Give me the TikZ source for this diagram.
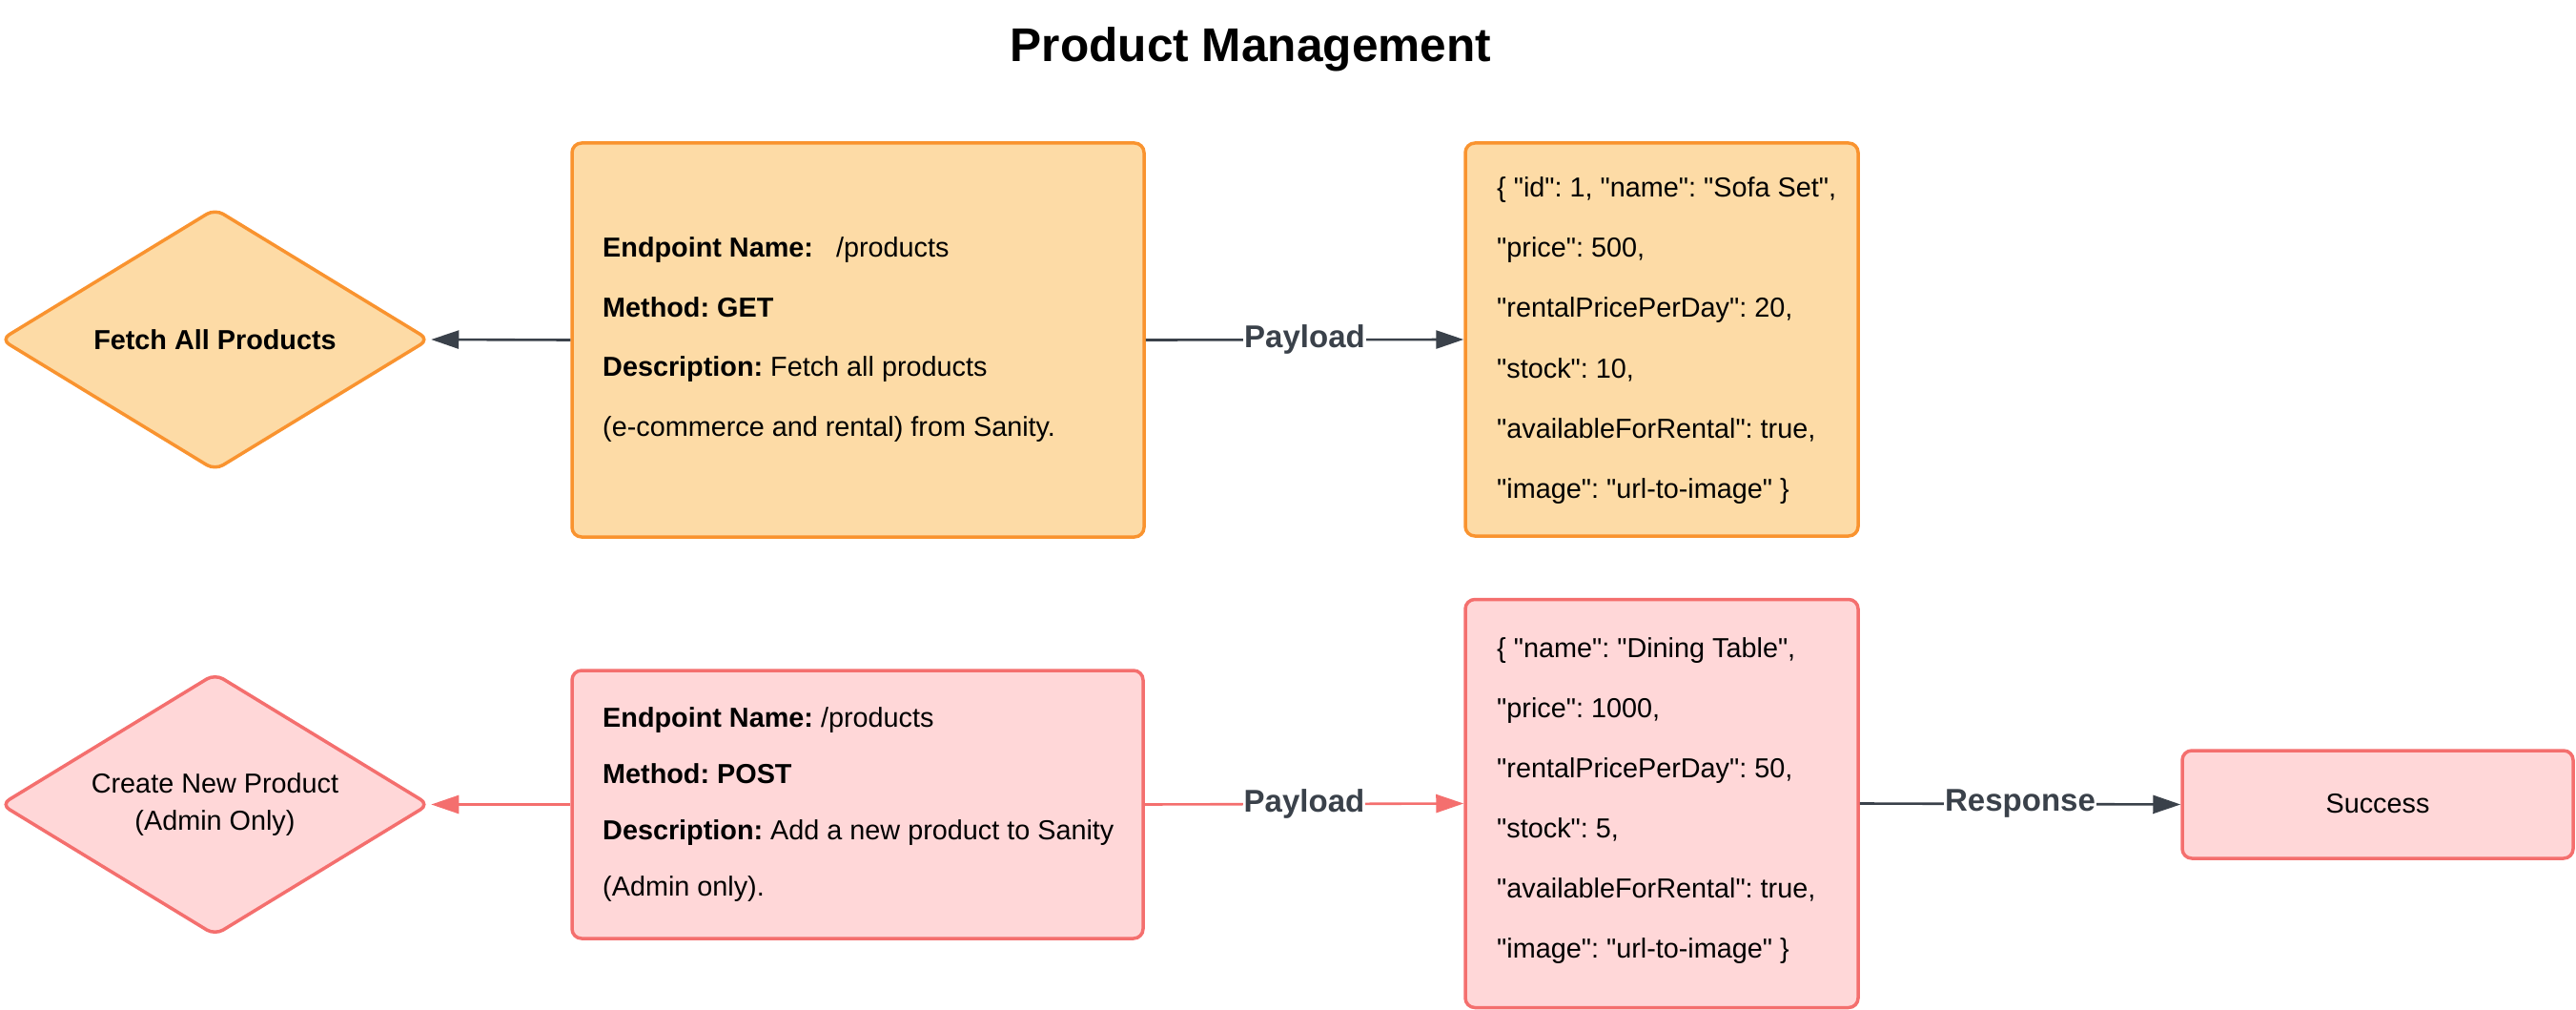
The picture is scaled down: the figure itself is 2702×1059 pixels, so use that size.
\documentclass[tikz,border=0pt]{standalone}
\usepackage{fontspec}
\setmainfont{Liberation Sans}[Ligatures=TeXOff]
\usetikzlibrary{shapes.geometric,arrows.meta}
\definecolor{ofill}{HTML}{FDDBA6}
\definecolor{ostroke}{HTML}{F9932F}
\definecolor{pfill}{HTML}{FFD7D8}
\definecolor{pstroke}{HTML}{F46F6E}
\definecolor{dark}{HTML}{3A414A}
\tikzset{
  x=1pt, y=-1pt,
  obox/.style={draw=ostroke, fill=ofill, line width=3.5pt, rounded corners=10pt, inner sep=0pt},
  pbox/.style={draw=pstroke, fill=pfill, line width=3.5pt, rounded corners=10pt, inner sep=0pt},
  odiam/.style={diamond, shape aspect=1.637, draw=ostroke, fill=ofill, line width=3.5pt, rounded corners=10pt, inner sep=0pt, minimum width=450pt, minimum height=275pt},
  pdiam/.style={diamond, shape aspect=1.637, draw=pstroke, fill=pfill, line width=3.5pt, rounded corners=10pt, inner sep=0pt, minimum width=450pt, minimum height=275pt},
  body/.style={font=\fontsize{28.8}{34}\selectfont, inner sep=0pt, text=black},
  arrdark/.style={draw=dark, line width=2.6pt, -{Triangle[length=29pt,width=19pt]}},
  arrred/.style={draw=pstroke, line width=2.6pt, -{Triangle[length=29pt,width=19pt]}},
  lbl/.style={fill=white, inner xsep=1pt, inner ysep=2pt, text=dark, font=\fontsize{33}{36}\selectfont\bfseries},
}
\begin{document}
\frenchspacing
\begin{tikzpicture}
\useasboundingbox (0,0) rectangle (2702,1059);
% title
\node[font=\fontsize{49.6}{54}\selectfont\bfseries, inner sep=0pt] (title) at (1312,52) {Product Management};

% row 1
\node[odiam, body] (d1) at (225.5,356) {\textbf{Fetch All Products}};
\node[obox, minimum width=600pt, minimum height=413pt] (b1) at (900,356.5) {};
\node[body, anchor=west, align=left, font=\fontsize{28.8}{62.7}\selectfont] (t1) at (632,356)
  {\textbf{Endpoint Name:}\ \ \ /products\\
   \textbf{Method: GET}\\
   \textbf{Description:} Fetch all products\\
   (e-commerce and rental) from Sanity.};
\node[obox, minimum width=412pt, minimum height=412pt] (b2) at (1743,356) {};
\node[body, anchor=west, align=left, font=\fontsize{28.8}{63.2}\selectfont] (t2) at (1570,357)
  {\{ "id": 1, "name": "Sofa Set",\\
   "price": 500,\\
   "rentalPricePerDay": 20,\\
   "stock": 10,\\
   "availableForRental": true,\\
   "image": "url-to-image" \}};
\draw[arrdark] (b1.west) -- (d1.east);
\draw[arrdark] (b1.east) -- node[lbl] (l1) {Payload} (b2.west);

% row 2
\node[pdiam, body, align=center, font=\fontsize{28.8}{39}\selectfont] (d2) at (225.5,843.5) {Create New Product\\(Admin Only)};
\node[pbox, minimum width=599pt, minimum height=281pt] (b3) at (899.5,843.5) {};
\node[body, anchor=west, align=left, font=\fontsize{28.8}{59.3}\selectfont] (t3) at (632,843.5)
  {\textbf{Endpoint Name:} /products\\
   \textbf{Method: POST}\\
   \textbf{Description:} Add a new product to Sanity\\
   (Admin only).};
\node[pbox, minimum width=412pt, minimum height=428pt] (b4) at (1743,842.5) {};
\node[body, anchor=west, align=left, font=\fontsize{28.8}{63}\selectfont] (t4) at (1570,840)
  {\{ "name": "Dining Table",\\
   "price": 1000,\\
   "rentalPricePerDay": 50,\\
   "stock": 5,\\
   "availableForRental": true,\\
   "image": "url-to-image" \}};
\node[pbox, body, minimum width=410pt, minimum height=113pt] (b5) at (2494,843.5) {\raisebox{3pt}{Success}};
\draw[arrred] (b3.west) -- (d2.east);
\draw[arrred] (b3.east) -- node[lbl] (l2) {Payload} (b4.west);
\draw[arrdark] (b4.east) -- node[lbl] (l3) {Response} (b5.west);
\end{tikzpicture}
\end{document}
